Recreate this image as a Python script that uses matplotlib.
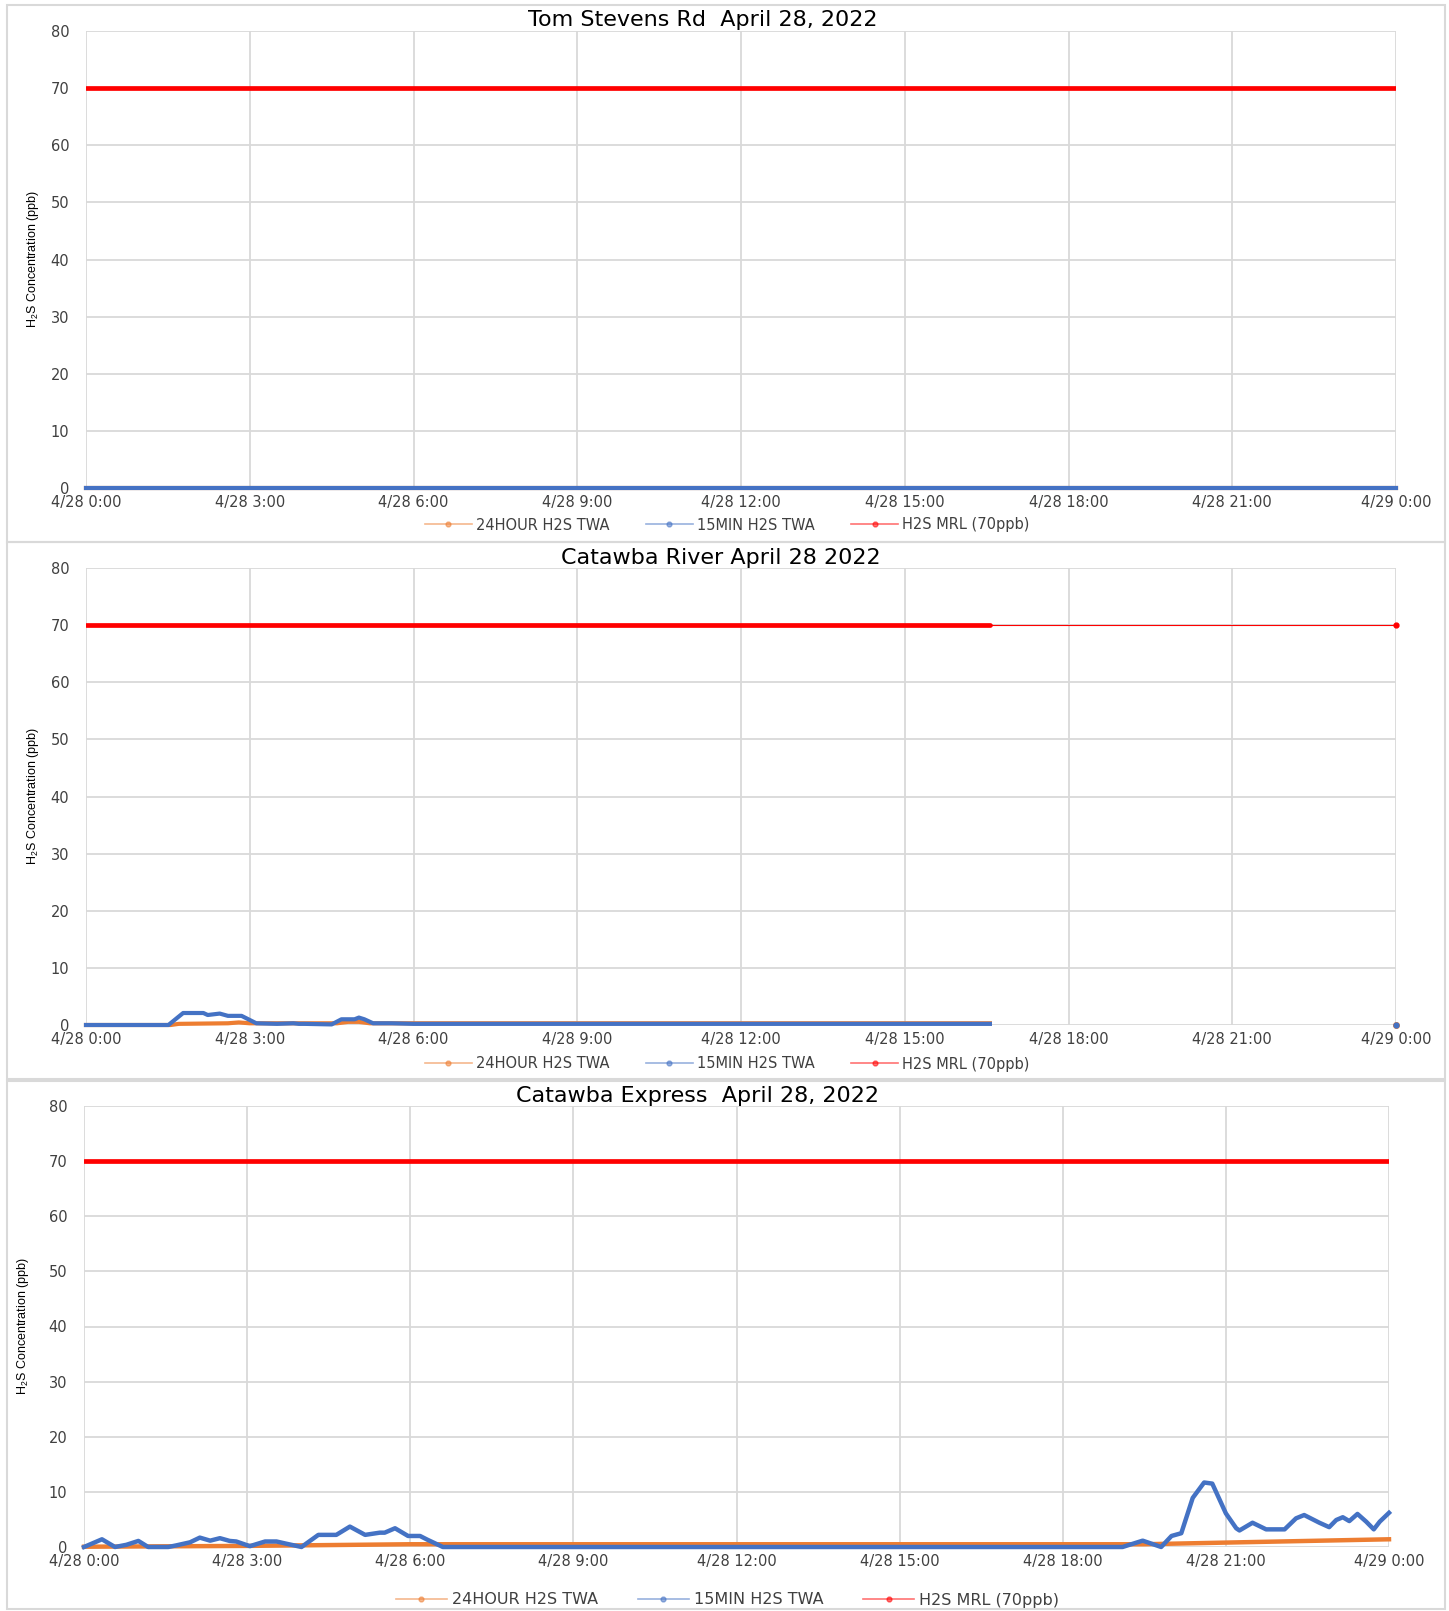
import matplotlib
matplotlib.use("Agg")
import matplotlib.pyplot as plt
from matplotlib.lines import Line2D
from matplotlib.patches import Rectangle

# chart titles and shared labels
titles = ["Tom Stevens Rd  April 28, 2022",
          "Catawba River April 28 2022",
          "Catawba Express  April 28, 2022"]
xtick_hours = [0, 3, 6, 9, 12, 15, 18, 21, 24]
xtick_labels = ["4/28 0:00", "4/28 3:00", "4/28 6:00", "4/28 9:00", "4/28 12:00",
                "4/28 15:00", "4/28 18:00", "4/28 21:00", "4/29 0:00"]
yticks = [0, 10, 20, 30, 40, 50, 60, 70, 80]
series_names = ["24HOUR H2S TWA", "15MIN H2S TWA", "H2S MRL (70ppb)"]
mrl = 70

# Tom Stevens Rd - flat zero all day
tom_hours = [0, 24]
tom_24h = [0, 0]
tom_15m = [0, 0]

# Catawba River - data stops around 16:30, one point at midnight
river_hours_15m = [0, 1.51, 1.78, 2.15, 2.23, 2.45, 2.6, 2.85, 3.12, 3.5, 3.8, 3.9, 4.0,
                   4.5, 4.68, 4.92, 5.0, 5.1, 5.26, 5.6, 6.0, 16.56]
river_15m = [0, 0, 2.1, 2.1, 1.75, 2.0, 1.6, 1.6, 0.3, 0.2, 0.3, 0.2, 0.2,
             0.1, 1.0, 1.0, 1.3, 1.0, 0.3, 0.3, 0.2, 0.2]
river_hours_24h = [0, 1.55, 1.7, 2.6, 2.8, 3.0, 4.6, 4.8, 5.0, 5.2, 16.56]
river_24h = [0, 0, 0.2, 0.3, 0.45, 0.3, 0.3, 0.55, 0.55, 0.3, 0.3]
river_mrl_end = 16.56
river_last_hour = 24
river_last_value = 0

# Catawba Express
exp_hours_15m = [0, 0.33, 0.57, 0.78, 1.0, 1.18, 1.55, 1.7, 1.95, 2.13, 2.32, 2.5, 2.68,
                 2.8, 3.05, 3.33, 3.54, 3.72, 4.0, 4.31, 4.64, 4.89, 5.17, 5.44, 5.53,
                 5.72, 5.96, 6.18, 6.32, 6.6, 19.1, 19.47, 19.81, 20.0, 20.18, 20.39,
                 20.6, 20.75, 21.0, 21.19, 21.25, 21.49, 21.74, 22.08, 22.29, 22.44,
                 22.72, 22.9, 23.03, 23.15, 23.27, 23.42, 23.58, 23.72, 23.83, 24.0]
exp_15m = [0, 1.4, 0, 0.4, 1.1, 0, 0, 0.3, 0.85, 1.7, 1.15, 1.6, 1.1,
           1.0, 0.15, 1.0, 1.0, 0.6, 0, 2.2, 2.2, 3.7, 2.2, 2.6, 2.6,
           3.4, 2.0, 2.0, 1.3, 0, 0, 1.15, 0, 2.0, 2.5, 8.9,
           11.7, 11.5, 6.1, 3.4, 3.0, 4.4, 3.2, 3.2, 5.2, 5.8,
           4.4, 3.6, 4.9, 5.4, 4.7, 6.0, 4.6, 3.2, 4.6, 6.2]
exp_hours_24h = [0, 3, 6, 19.5, 21, 24]
exp_24h = [0.05, 0.2, 0.5, 0.5, 0.8, 1.4]

RED = "#FF0000"
BLUE = "#4472C4"
ORANGE = "#ED7D31"
GRID = "#D9D9D9"

fig = plt.figure(figsize=(14.49, 16.11), dpi=100)

# chart-area frames (pixel rows top/bottom)
for top, bot in [(5, 542), (542, 1079), (1081, 1609)]:
    fig.add_artist(Rectangle((7 / 1449, 1 - bot / 1611), 1438 / 1449, (bot - top) / 1611,
                             transform=fig.transFigure, fill=False, edgecolor=GRID, lw=1.5))

axes_px = [(86, 1396, 31, 488), (86, 1396, 568, 1025), (84, 1389, 1106, 1547)]
title_xy = [(703, 19.5), (721, 558), (697, 1096.5)]
legend_y = [525, 1064, 1600]
ylabel_x = [33, 33, 23]
legend_fs = [10.5, 10.5, 11.5]

axes = []
for (x0, x1, y0, y1) in axes_px:
    ax = fig.add_axes([x0 / 1449, 1 - y1 / 1611, (x1 - x0) / 1449, (y1 - y0) / 1611])
    axes.append(ax)

for i, ax in enumerate(axes):
    ax.set_xlim(0, 24)
    ax.set_ylim(0, 80)
    ax.set_xticks(xtick_hours)
    ax.set_xticklabels(xtick_labels)
    ax.set_yticks(yticks)
    ax.grid(True, color=GRID, lw=1.3)
    ax.set_axisbelow(True)
    for s in ax.spines.values():
        s.set_visible(False)
    ax.tick_params(length=0, labelsize=10.5, colors="#404040")
    ax.tick_params(axis="y", pad=12)
    ax.tick_params(axis="x", pad=5)
    fig.text(title_xy[i][0] / 1449, 1 - title_xy[i][1] / 1611,
             titles[i], ha="center", va="center", fontsize=16)
    pos = ax.get_position()
    fig.text(ylabel_x[i] / 1449, pos.y0 + pos.height / 2,
             r"$\mathregular{H_2S}$ Concentration (ppb)", rotation=90, ha="center",
             va="center", fontsize=9,
             family=["Liberation Sans Narrow", "Liberation Sans", "DejaVu Sans"])
    handles = [Line2D([], [], color=c, lw=1.2, alpha=0.55, marker="o", ms=3.5,
                      markerfacecolor=c, markeredgecolor=c)
               for c in (ORANGE, BLUE, RED)]
    leg = ax.legend(handles, series_names, loc="center", ncol=3, frameon=False,
                    bbox_to_anchor=(0.502, 1 - legend_y[i] / 1611),
                    bbox_transform=fig.transFigure, fontsize=legend_fs[i],
                    handlelength=3.2, columnspacing=2.5, handletextpad=0.3)
    for t in leg.get_texts():
        t.set_color("#404040")

# Tom Stevens Rd
ax = axes[0]
ax.plot(tom_hours, [mrl, mrl], color=RED, lw=3.4, solid_capstyle="round")
ax.plot(tom_hours, tom_24h, color=ORANGE, lw=3, clip_on=False)
ax.plot(tom_hours, tom_15m, color=BLUE, lw=3, clip_on=False)

# Catawba River
ax = axes[1]
ax.plot([0, river_mrl_end], [mrl, mrl], color=RED, lw=3.4, solid_capstyle="round")
ax.plot([river_mrl_end, river_last_hour], [mrl, mrl], color=RED, lw=0.8)
ax.plot([river_last_hour], [mrl], "o", color=RED, ms=3.5, clip_on=False)
ax.plot(river_hours_24h, river_24h, color=ORANGE, lw=3, clip_on=False)
ax.plot(river_hours_15m, river_15m, color=BLUE, lw=3, clip_on=False)
ax.plot([river_last_hour], [river_last_value], "o", color=ORANGE, ms=4, clip_on=False)
ax.plot([river_last_hour], [river_last_value], "o", color=BLUE, ms=3.5, clip_on=False)

# Catawba Express
ax = axes[2]
ax.plot([0, 24], [mrl, mrl], color=RED, lw=3.4, solid_capstyle="round")
ax.plot(exp_hours_24h, exp_24h, color=ORANGE, lw=3.2, clip_on=False)
ax.plot(exp_hours_15m, exp_15m, color=BLUE, lw=3.2, clip_on=False,
        solid_joinstyle="round")

fig.savefig("out.png", dpi=100)
